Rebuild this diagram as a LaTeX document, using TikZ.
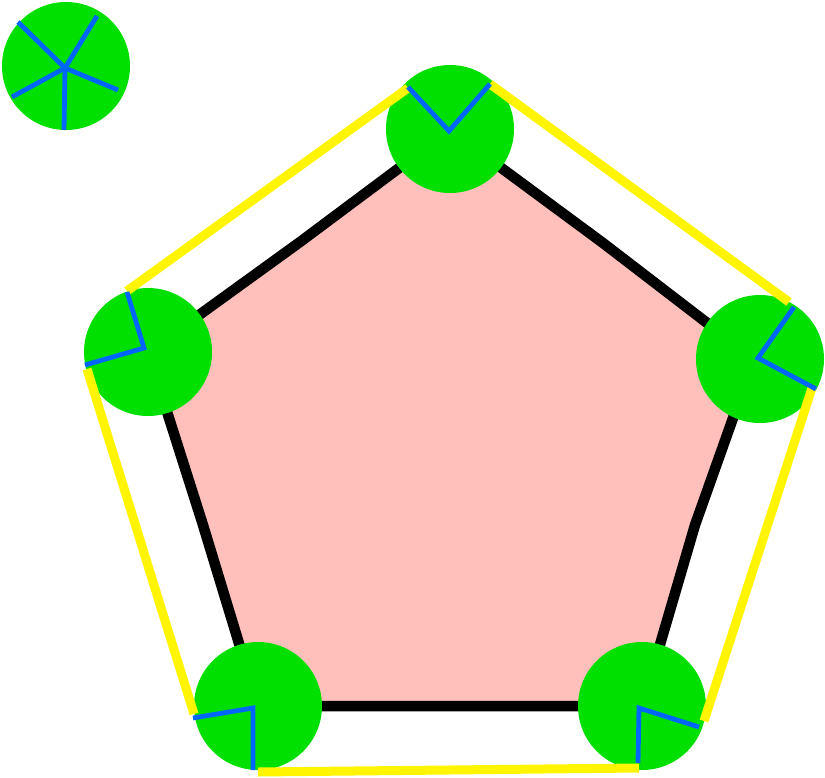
\documentclass[tikz,border=0pt]{standalone}
\definecolor{gr}{RGB}{0,224,0}
\definecolor{pk}{RGB}{255,192,188}
\definecolor{bl}{RGB}{0,102,255}
\definecolor{yl}{RGB}{255,245,0}
\begin{document}
\begin{tikzpicture}[x=1pt,y=-1pt,
  gc/.style={circle,fill=gr,minimum size=128pt,inner sep=0pt},
  blu/.style={draw=bl,line width=4.8pt},
  yel/.style={draw=yl,line width=9pt},
  pent/.style={draw=black,line width=10.5pt,fill=pk,line join=round}]
\useasboundingbox (0,0) rectangle (825,777);
% pentagon outline points
\coordinate (pT) at (450,130);
\coordinate (pTR) at (603,243);
\coordinate (pR) at (754,359);
\coordinate (pRm) at (695,525);
\coordinate (pBR) at (642,706);
\coordinate (pB) at (450,706);
\coordinate (pBL) at (258,706);
\coordinate (pLm) at (203,525);
\coordinate (pL) at (148,352);
\coordinate (pTL) at (300,242);
\draw[pent] (pT) -- (pTR) -- (pR) -- (pRm) -- (pBR) -- (pB) -- (pBL) -- (pLm) -- (pL) -- (pTL) -- cycle;
% circles
\node[gc] (c0) at (66,66) {};
\node[gc] (cT) at (450,129) {};
\node[gc] (cR) at (760,359) {};
\node[gc] (cBR) at (642,706) {};
\node[gc] (cBL) at (258,706) {};
\node[gc] (cL) at (148,352) {};
% hubs
\coordinate (h0) at (65,68);
\coordinate (hT) at (449,131);
\coordinate (hL) at (144,348);
\coordinate (hR) at (758,358);
\coordinate (hBL) at (253,708);
\coordinate (hBR) at (639,708);
% blue ends
\coordinate (e01) at (18,22);
\coordinate (e02) at (97,16);
\coordinate (e03) at (118,90);
\coordinate (e04) at (64,130);
\coordinate (e05) at (12,97);
\coordinate (eT1) at (408,87);
\coordinate (eT2) at (490,84);
\coordinate (eL1) at (127,292);
\coordinate (eL2) at (85,365);
\coordinate (eR1) at (794,307);
\coordinate (eR2) at (816,389);
\coordinate (eBL1) at (193,718);
\coordinate (eBL2) at (253,770);
\coordinate (eBR1) at (699,727);
\coordinate (eBR2) at (638,763);
% yellow ends
\coordinate (ya1) at (408,88);
\coordinate (ya2) at (127,291);
\coordinate (yb1) at (490,84);
\coordinate (yb2) at (789,302);
\coordinate (yc1) at (87,369);
\coordinate (yc2) at (194,714);
\coordinate (yd1) at (812,388);
\coordinate (yd2) at (704,721);
\coordinate (ye1) at (258,772);
\coordinate (ye2) at (639,768);
\draw[yel] (ya1) -- (ya2);
\draw[yel] (yb1) -- (yb2);
\draw[yel] (yc1) -- (yc2);
\draw[yel] (yd1) -- (yd2);
\draw[yel] (ye1) -- (ye2);
% blue spokes
\foreach \e in {e01,e02,e03,e04,e05} \draw[blu] (h0) -- (\e);
\draw[blu] (eT1) -- (hT) -- (eT2);
\draw[blu] (eL1) -- (hL) -- (eL2);
\draw[blu] (eR1) -- (hR) -- (eR2);
\draw[blu] (eBL1) -- (hBL) -- (eBL2);
\draw[blu] (eBR1) -- (hBR) -- (eBR2);
\end{tikzpicture}
\end{document}
